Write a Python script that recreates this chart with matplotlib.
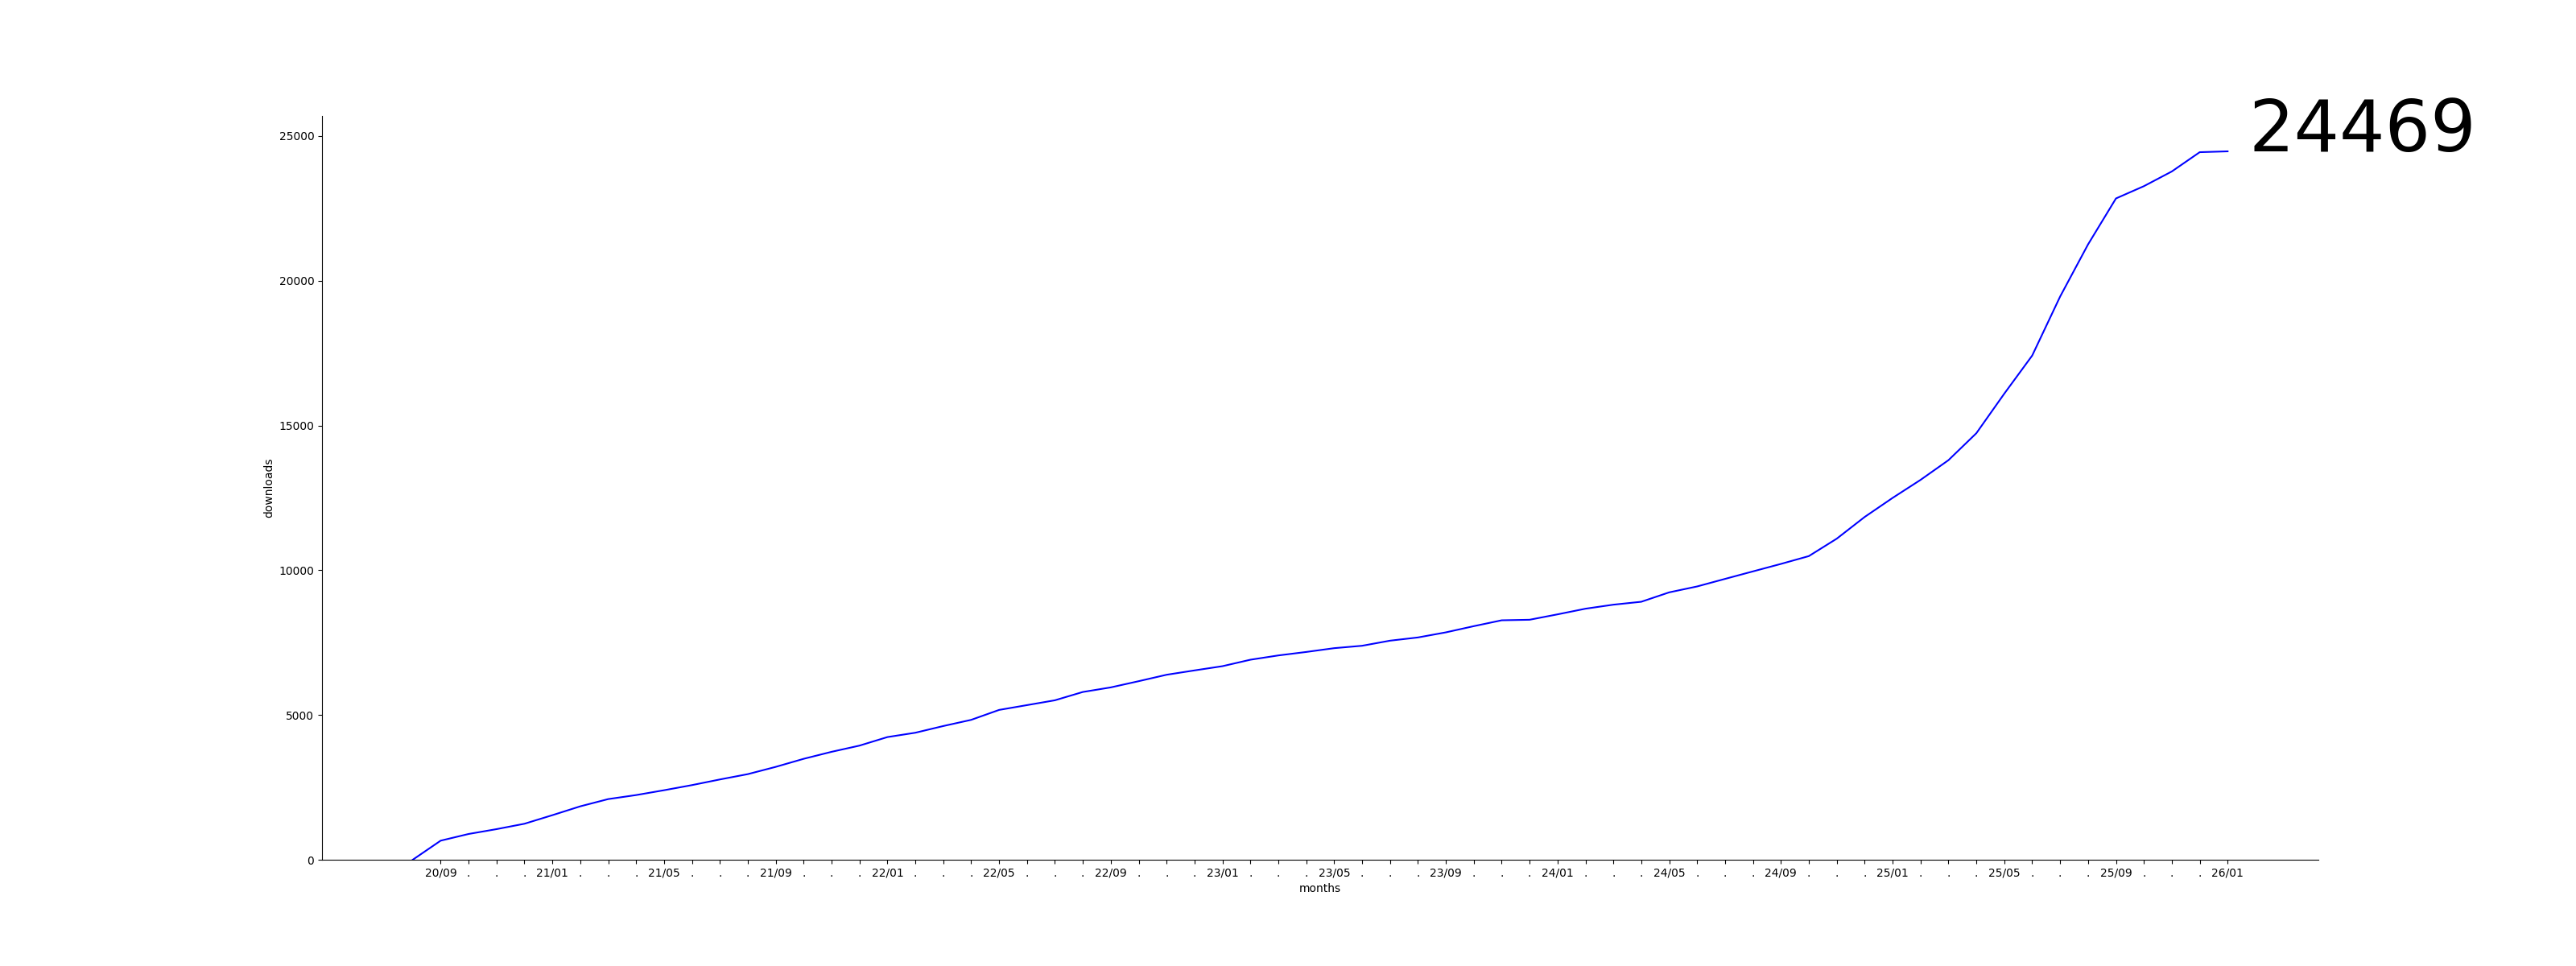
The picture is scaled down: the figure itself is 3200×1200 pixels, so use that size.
import matplotlib
matplotlib.use("Agg")
import matplotlib.pyplot as plt

# cumulative downloads per month, 2020/08 .. 2026/01
months = []
for y in range(2020, 2027):
    for m in range(1, 13):
        if (y, m) < (2020, 8) or (y, m) > (2026, 1):
            continue
        months.append(f"{y % 100:02d}/{m:02d}")

downloads = [0, 659, 890, 1057, 1243, 1539, 1845, 2095, 2234, 2401,
             2578, 2773, 2957, 3208, 3486, 3728, 3942, 4237, 4387, 4618,
             4832, 5175, 5341, 5508, 5795, 5953, 6168, 6390, 6540, 6686,
             6909, 7057, 7177, 7308, 7391, 7567, 7678, 7854, 8068, 8271,
             8290, 8476, 8671, 8810, 8911, 9236, 9440, 9701, 9960, 10218,
             10488, 11090, 11840, 12498, 13120, 13801, 14733, 16099, 17415, 19453,
             21254, 22842, 23266, 23774, 24440, 24469]

total = downloads[-1]

fig, ax = plt.subplots(figsize=(32, 12), dpi=100)
x = list(range(len(downloads)))
ax.plot(x, downloads, color="blue")
ax.set_ylim(bottom=0)

# one tick per month, a label every 4 months
tick_pos = x[1:]
tick_lab = [months[i] if (i - 1) % 4 == 0 else "." for i in tick_pos]
ax.set_xticks(tick_pos)
ax.set_xticklabels(tick_lab)

ax.set_xlabel("months")
ax.set_ylabel("downloads")
ax.spines["top"].set_visible(False)
ax.spines["right"].set_visible(False)

ax.text(len(downloads) - 0.25, total, str(total), fontsize=64)

plt.savefig("out.png")
